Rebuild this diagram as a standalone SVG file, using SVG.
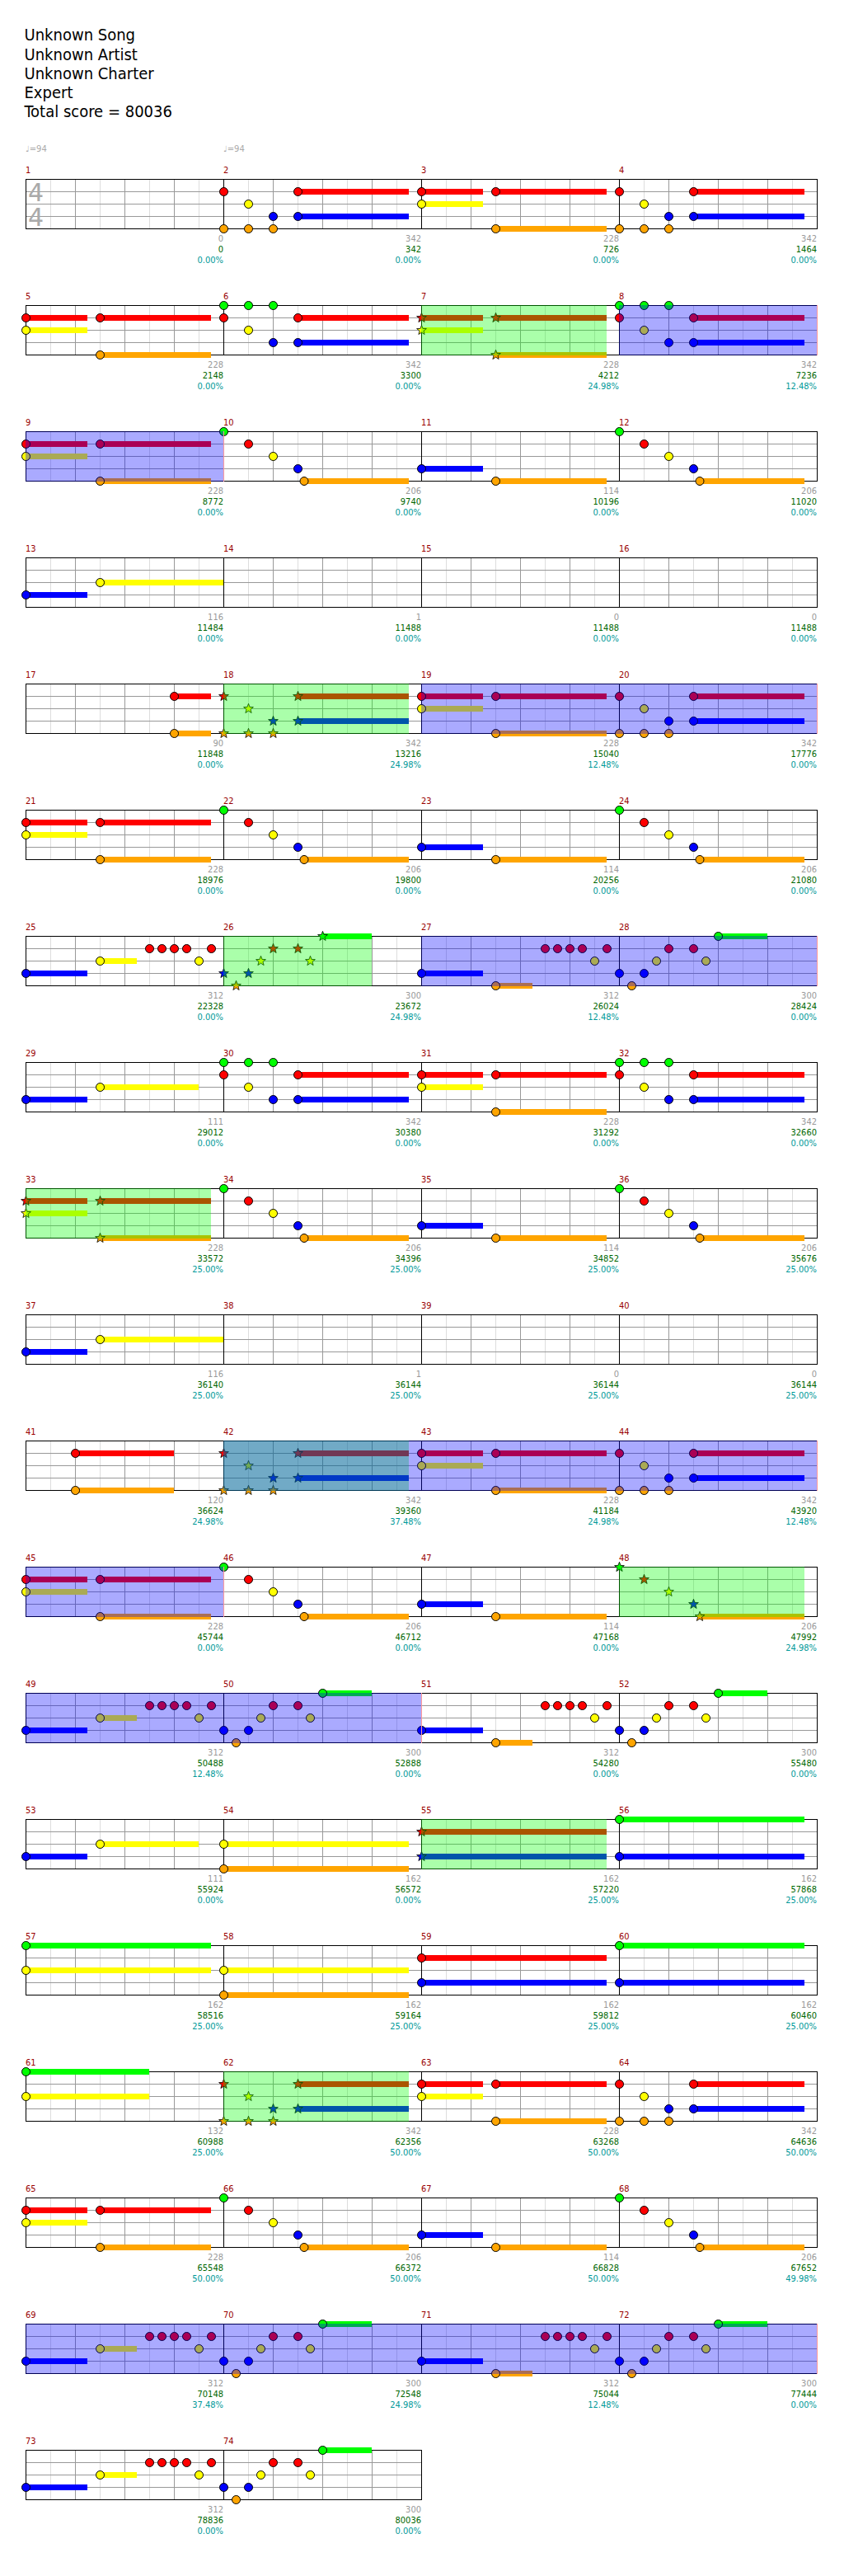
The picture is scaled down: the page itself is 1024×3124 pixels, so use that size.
<svg xmlns="http://www.w3.org/2000/svg" width="1024" height="3124" viewBox="0 0 1024 3124">
<style>
.t{font-family:'DejaVu Sans Condensed','DejaVu Sans',sans-serif;font-stretch:condensed}
.hd{font-size:20px;fill:#000}
.mn{font-size:11px;fill:#990000}
.lb{font-size:11px;text-anchor:end}
.k{fill:#999999}.v{fill:#006600}.p{fill:#009999}
.tp{font-family:'DejaVu Sans',sans-serif;font-size:10px;fill:#aaaaaa}
.ts{font-family:'DejaVu Sans',sans-serif;font-size:30px;fill:#aaaaaa}
.n{stroke:#000;stroke-width:1}
.G{fill:#00ff00}.R{fill:#ff0000}.Y{fill:#ffff00}.B{fill:#0000ff}.O{fill:#ffa500}
.og{fill:#00ff00;fill-opacity:.3333}
.ob{fill:#0000ff;fill-opacity:.3333}
.se{stroke:#ff9999;stroke-width:1;fill:none}
.l8{stroke:#dddddd;stroke-width:1;fill:none}
.l4{stroke:#999999;stroke-width:1;fill:none}
.lm{stroke:#000;stroke-width:1;fill:none}
</style>
<defs>
<path id="st" d="M0,-6.2L1.53,-2.1L5.9,-1.92L2.47,0.8L3.64,5.02L0,2.6L-3.64,5.02L-2.47,0.8L-5.9,-1.92L-1.53,-2.1Z" stroke="#000" stroke-width="0.8"/>
<g id="g4">
<rect x="31" y="0" width="960" height="60" fill="#fff"/>
<path class="l8" d="M61.5 0V60M121.5 0V60M181.5 0V60M241.5 0V60M301.5 0V60M361.5 0V60M421.5 0V60M481.5 0V60M541.5 0V60M601.5 0V60M661.5 0V60M721.5 0V60M781.5 0V60M841.5 0V60M901.5 0V60M961.5 0V60"/>
<path class="l4" d="M91.5 0V60M151.5 0V60M211.5 0V60M331.5 0V60M391.5 0V60M451.5 0V60M571.5 0V60M631.5 0V60M691.5 0V60M811.5 0V60M871.5 0V60M931.5 0V60M31 15.5H991M31 30.5H991M31 45.5H991"/>
<path class="lm" d="M271.5 0V60M511.5 0V60M751.5 0V60"/>
<rect x="31.5" y="0.5" width="960" height="60" fill="none" stroke="#000"/>
</g>
<g id="g2">
<rect x="31" y="0" width="480" height="60" fill="#fff"/>
<path class="l8" d="M61.5 0V60M121.5 0V60M181.5 0V60M241.5 0V60M301.5 0V60M361.5 0V60M421.5 0V60M481.5 0V60"/>
<path class="l4" d="M91.5 0V60M151.5 0V60M211.5 0V60M331.5 0V60M391.5 0V60M451.5 0V60M31 15.5H511M31 30.5H511M31 45.5H511"/>
<path class="lm" d="M271.5 0V60"/>
<rect x="31.5" y="0.5" width="480" height="60" fill="none" stroke="#000"/>
</g>
<g id="pAsus"><rect class="R" x="0.5" y="12" width="74.5" height="7"/><rect class="Y" x="0.5" y="27" width="74.5" height="7"/><rect class="R" x="90.5" y="12" width="134.5" height="7"/><rect class="O" x="90.5" y="57" width="134.5" height="7"/></g>
<g id="pA"><use href="#pAsus"/><circle class="n R" cx="0.5" cy="15.5" r="5"/><circle class="n Y" cx="0.5" cy="30.5" r="5"/><circle class="n R" cx="90.5" cy="15.5" r="5"/><circle class="n O" cx="90.5" cy="60.5" r="5"/></g>
<g id="pAs"><use href="#pAsus"/><use href="#st" class="R" x="0.5" y="15.5"/><use href="#st" class="Y" x="0.5" y="30.5"/><use href="#st" class="R" x="90.5" y="15.5"/><use href="#st" class="O" x="90.5" y="60.5"/></g>
<g id="pBCsus"><rect class="R" x="90.5" y="12" width="134.5" height="7"/><rect class="B" x="90.5" y="42" width="134.5" height="7"/></g>
<g id="pB"><use href="#pBCsus"/><circle class="n G" cx="0.5" cy="0.5" r="5"/><circle class="n R" cx="0.5" cy="15.5" r="5"/><circle class="n G" cx="30.5" cy="0.5" r="5"/><circle class="n Y" cx="30.5" cy="30.5" r="5"/><circle class="n G" cx="60.5" cy="0.5" r="5"/><circle class="n B" cx="60.5" cy="45.5" r="5"/><circle class="n R" cx="90.5" cy="15.5" r="5"/><circle class="n B" cx="90.5" cy="45.5" r="5"/></g>
<g id="pC"><use href="#pBCsus"/><circle class="n R" cx="0.5" cy="15.5" r="5"/><circle class="n O" cx="0.5" cy="60.5" r="5"/><circle class="n Y" cx="30.5" cy="30.5" r="5"/><circle class="n O" cx="30.5" cy="60.5" r="5"/><circle class="n B" cx="60.5" cy="45.5" r="5"/><circle class="n O" cx="60.5" cy="60.5" r="5"/><circle class="n R" cx="90.5" cy="15.5" r="5"/><circle class="n B" cx="90.5" cy="45.5" r="5"/></g>
<g id="pCs"><use href="#pBCsus"/><use href="#st" class="R" x="0.5" y="15.5"/><use href="#st" class="O" x="0.5" y="60.5"/><use href="#st" class="Y" x="30.5" y="30.5"/><use href="#st" class="O" x="30.5" y="60.5"/><use href="#st" class="B" x="60.5" y="45.5"/><use href="#st" class="O" x="60.5" y="60.5"/><use href="#st" class="R" x="90.5" y="15.5"/><use href="#st" class="B" x="90.5" y="45.5"/></g>
<g id="pE"><rect class="O" x="98" y="57" width="127" height="7"/><circle class="n G" cx="0.5" cy="0.5" r="5"/><circle class="n R" cx="30.5" cy="15.5" r="5"/><circle class="n Y" cx="60.5" cy="30.5" r="5"/><circle class="n B" cx="90.5" cy="45.5" r="5"/><circle class="n O" cx="98" cy="60.5" r="5"/></g>
<g id="pEs"><rect class="O" x="98" y="57" width="127" height="7"/><use href="#st" class="G" x="0.5" y="0.5"/><use href="#st" class="R" x="30.5" y="15.5"/><use href="#st" class="Y" x="60.5" y="30.5"/><use href="#st" class="B" x="90.5" y="45.5"/><use href="#st" class="O" x="98" y="60.5"/></g>
<g id="pF"><rect class="B" x="0.5" y="42" width="74.5" height="7"/><rect class="O" x="90.5" y="57" width="134.5" height="7"/><circle class="n B" cx="0.5" cy="45.5" r="5"/><circle class="n O" cx="90.5" cy="60.5" r="5"/></g>
<g id="pG"><rect class="B" x="0.5" y="42" width="74.5" height="7"/><rect class="Y" x="90.5" y="27" width="149.5" height="7"/><circle class="n B" cx="0.5" cy="45.5" r="5"/><circle class="n Y" cx="90.5" cy="30.5" r="5"/></g>
<g id="pH"><rect class="B" x="0.5" y="42" width="74.5" height="7"/><rect class="Y" x="90.5" y="27" width="44.5" height="7"/><circle class="n B" cx="0.5" cy="45.5" r="5"/><circle class="n Y" cx="90.5" cy="30.5" r="5"/><circle class="n R" cx="150.5" cy="15.5" r="5"/><circle class="n R" cx="165.5" cy="15.5" r="5"/><circle class="n R" cx="180.5" cy="15.5" r="5"/><circle class="n R" cx="195.5" cy="15.5" r="5"/><circle class="n Y" cx="210.5" cy="30.5" r="5"/><circle class="n R" cx="225.5" cy="15.5" r="5"/></g>
<g id="pI"><rect class="G" x="120.5" y="-3" width="59.5" height="7"/><circle class="n B" cx="0.5" cy="45.5" r="5"/><circle class="n O" cx="15.5" cy="60.5" r="5"/><circle class="n B" cx="30.5" cy="45.5" r="5"/><circle class="n Y" cx="45.5" cy="30.5" r="5"/><circle class="n R" cx="60.5" cy="15.5" r="5"/><circle class="n R" cx="90.5" cy="15.5" r="5"/><circle class="n Y" cx="105.5" cy="30.5" r="5"/><circle class="n G" cx="120.5" cy="0.5" r="5"/></g>
<g id="pIs"><rect class="G" x="120.5" y="-3" width="59.5" height="7"/><use href="#st" class="B" x="0.5" y="45.5"/><use href="#st" class="O" x="15.5" y="60.5"/><use href="#st" class="B" x="30.5" y="45.5"/><use href="#st" class="Y" x="45.5" y="30.5"/><use href="#st" class="R" x="60.5" y="15.5"/><use href="#st" class="R" x="90.5" y="15.5"/><use href="#st" class="Y" x="105.5" y="30.5"/><use href="#st" class="G" x="120.5" y="0.5"/></g>
<g id="pJ"><rect class="B" x="0.5" y="42" width="74.5" height="7"/><rect class="O" x="90.5" y="57" width="44.5" height="7"/><circle class="n B" cx="0.5" cy="45.5" r="5"/><circle class="n O" cx="90.5" cy="60.5" r="5"/><circle class="n R" cx="150.5" cy="15.5" r="5"/><circle class="n R" cx="165.5" cy="15.5" r="5"/><circle class="n R" cx="180.5" cy="15.5" r="5"/><circle class="n R" cx="195.5" cy="15.5" r="5"/><circle class="n Y" cx="210.5" cy="30.5" r="5"/><circle class="n R" cx="225.5" cy="15.5" r="5"/></g>
<g id="pK"><rect class="B" x="0.5" y="42" width="74.5" height="7"/><rect class="Y" x="90.5" y="27" width="119.5" height="7"/><circle class="n B" cx="0.5" cy="45.5" r="5"/><circle class="n Y" cx="90.5" cy="30.5" r="5"/></g>
<g id="pL"><rect class="R" x="180.5" y="12" width="44.5" height="7"/><rect class="O" x="180.5" y="57" width="44.5" height="7"/><circle class="n R" cx="180.5" cy="15.5" r="5"/><circle class="n O" cx="180.5" cy="60.5" r="5"/></g>
<g id="pM"><rect class="R" x="60.5" y="12" width="119.5" height="7"/><rect class="O" x="60.5" y="57" width="119.5" height="7"/><circle class="n R" cx="60.5" cy="15.5" r="5"/><circle class="n O" cx="60.5" cy="60.5" r="5"/></g>
<g id="pN"><rect class="Y" x="0.5" y="27" width="224.5" height="7"/><rect class="O" x="0.5" y="57" width="224.5" height="7"/><circle class="n Y" cx="0.5" cy="30.5" r="5"/><circle class="n O" cx="0.5" cy="60.5" r="5"/></g>
<g id="pO"><rect class="R" x="0.5" y="12" width="224.5" height="7"/><rect class="B" x="0.5" y="42" width="224.5" height="7"/><circle class="n R" cx="0.5" cy="15.5" r="5"/><circle class="n B" cx="0.5" cy="45.5" r="5"/></g>
<g id="pOs"><rect class="R" x="0.5" y="12" width="224.5" height="7"/><rect class="B" x="0.5" y="42" width="224.5" height="7"/><use href="#st" class="R" x="0.5" y="15.5"/><use href="#st" class="B" x="0.5" y="45.5"/></g>
<g id="pP"><rect class="G" x="0.5" y="-3" width="224.5" height="7"/><rect class="B" x="0.5" y="42" width="224.5" height="7"/><circle class="n G" cx="0.5" cy="0.5" r="5"/><circle class="n B" cx="0.5" cy="45.5" r="5"/></g>
<g id="pQ"><rect class="G" x="0.5" y="-3" width="224.5" height="7"/><rect class="Y" x="0.5" y="27" width="224.5" height="7"/><circle class="n G" cx="0.5" cy="0.5" r="5"/><circle class="n Y" cx="0.5" cy="30.5" r="5"/></g>
<g id="pR"><rect class="G" x="0.5" y="-3" width="149.5" height="7"/><rect class="Y" x="0.5" y="27" width="149.5" height="7"/><circle class="n G" cx="0.5" cy="0.5" r="5"/><circle class="n Y" cx="0.5" cy="30.5" r="5"/></g>
</defs>
<rect width="1024" height="3124" fill="#fff"/>
<g id="header" class="t hd">
<text x="29.5" y="49.3">Unknown Song</text>
<text x="29.5" y="72.5">Unknown Artist</text>
<text x="29.5" y="95.6">Unknown Charter</text>
<text x="29.5" y="118.7">Expert</text>
<text x="29.5" y="141.8">Total score = 80036</text>
</g>
<g id="row1" transform="translate(0,217)">
<text class="tp" x="31" y="-33">♩=94</text><text class="tp" x="271" y="-33">♩=94</text>
<use href="#g4"/>
<text class="ts" x="34" y="27">4</text><text class="ts" x="34" y="57">4</text>
<use href="#pC" x="271"/><use href="#pA" x="511"/><use href="#pC" x="751"/>
<text class="t mn" x="31" y="-7">1</text><text class="t mn" x="271" y="-7">2</text><text class="t mn" x="511" y="-7">3</text><text class="t mn" x="751" y="-7">4</text>
<text class="t lb" x="271" y="76"><tspan class="k">0</tspan><tspan class="v" x="271" y="89">0</tspan><tspan class="p" x="271" y="102">0.00%</tspan></text>
<text class="t lb" x="511" y="76"><tspan class="k">342</tspan><tspan class="v" x="511" y="89">342</tspan><tspan class="p" x="511" y="102">0.00%</tspan></text>
<text class="t lb" x="751" y="76"><tspan class="k">228</tspan><tspan class="v" x="751" y="89">726</tspan><tspan class="p" x="751" y="102">0.00%</tspan></text>
<text class="t lb" x="991" y="76"><tspan class="k">342</tspan><tspan class="v" x="991" y="89">1464</tspan><tspan class="p" x="991" y="102">0.00%</tspan></text>
</g>
<g id="row2" transform="translate(0,370)">
<use href="#g4"/>
<use href="#pA" x="31"/><use href="#pB" x="271"/><use href="#pAs" x="511"/><use href="#pB" x="751"/>
<rect class="og" x="511" y="0" width="225" height="61"/><rect class="ob" x="751" y="0" width="240" height="61"/><path class="se" d="M991.5 0V61"/>
<text class="t mn" x="31" y="-7">5</text><text class="t mn" x="271" y="-7">6</text><text class="t mn" x="511" y="-7">7</text><text class="t mn" x="751" y="-7">8</text>
<text class="t lb" x="271" y="76"><tspan class="k">228</tspan><tspan class="v" x="271" y="89">2148</tspan><tspan class="p" x="271" y="102">0.00%</tspan></text>
<text class="t lb" x="511" y="76"><tspan class="k">342</tspan><tspan class="v" x="511" y="89">3300</tspan><tspan class="p" x="511" y="102">0.00%</tspan></text>
<text class="t lb" x="751" y="76"><tspan class="k">228</tspan><tspan class="v" x="751" y="89">4212</tspan><tspan class="p" x="751" y="102">24.98%</tspan></text>
<text class="t lb" x="991" y="76"><tspan class="k">342</tspan><tspan class="v" x="991" y="89">7236</tspan><tspan class="p" x="991" y="102">12.48%</tspan></text>
</g>
<g id="row3" transform="translate(0,523)">
<use href="#g4"/>
<use href="#pA" x="31"/><use href="#pE" x="271"/><use href="#pF" x="511"/><use href="#pE" x="751"/>
<rect class="ob" x="31" y="0" width="240" height="61"/><path class="se" d="M271.5 0V61"/>
<text class="t mn" x="31" y="-7">9</text><text class="t mn" x="271" y="-7">10</text><text class="t mn" x="511" y="-7">11</text><text class="t mn" x="751" y="-7">12</text>
<text class="t lb" x="271" y="76"><tspan class="k">228</tspan><tspan class="v" x="271" y="89">8772</tspan><tspan class="p" x="271" y="102">0.00%</tspan></text>
<text class="t lb" x="511" y="76"><tspan class="k">206</tspan><tspan class="v" x="511" y="89">9740</tspan><tspan class="p" x="511" y="102">0.00%</tspan></text>
<text class="t lb" x="751" y="76"><tspan class="k">114</tspan><tspan class="v" x="751" y="89">10196</tspan><tspan class="p" x="751" y="102">0.00%</tspan></text>
<text class="t lb" x="991" y="76"><tspan class="k">206</tspan><tspan class="v" x="991" y="89">11020</tspan><tspan class="p" x="991" y="102">0.00%</tspan></text>
</g>
<g id="row4" transform="translate(0,676)">
<use href="#g4"/>
<use href="#pG" x="31"/>
<text class="t mn" x="31" y="-7">13</text><text class="t mn" x="271" y="-7">14</text><text class="t mn" x="511" y="-7">15</text><text class="t mn" x="751" y="-7">16</text>
<text class="t lb" x="271" y="76"><tspan class="k">116</tspan><tspan class="v" x="271" y="89">11484</tspan><tspan class="p" x="271" y="102">0.00%</tspan></text>
<text class="t lb" x="511" y="76"><tspan class="k">1</tspan><tspan class="v" x="511" y="89">11488</tspan><tspan class="p" x="511" y="102">0.00%</tspan></text>
<text class="t lb" x="751" y="76"><tspan class="k">0</tspan><tspan class="v" x="751" y="89">11488</tspan><tspan class="p" x="751" y="102">0.00%</tspan></text>
<text class="t lb" x="991" y="76"><tspan class="k">0</tspan><tspan class="v" x="991" y="89">11488</tspan><tspan class="p" x="991" y="102">0.00%</tspan></text>
</g>
<g id="row5" transform="translate(0,829)">
<use href="#g4"/>
<use href="#pL" x="31"/><use href="#pCs" x="271"/><use href="#pA" x="511"/><use href="#pC" x="751"/>
<rect class="og" x="271" y="0" width="225" height="61"/><rect class="ob" x="511" y="0" width="480" height="61"/><path class="se" d="M991.5 0V61"/>
<text class="t mn" x="31" y="-7">17</text><text class="t mn" x="271" y="-7">18</text><text class="t mn" x="511" y="-7">19</text><text class="t mn" x="751" y="-7">20</text>
<text class="t lb" x="271" y="76"><tspan class="k">90</tspan><tspan class="v" x="271" y="89">11848</tspan><tspan class="p" x="271" y="102">0.00%</tspan></text>
<text class="t lb" x="511" y="76"><tspan class="k">342</tspan><tspan class="v" x="511" y="89">13216</tspan><tspan class="p" x="511" y="102">24.98%</tspan></text>
<text class="t lb" x="751" y="76"><tspan class="k">228</tspan><tspan class="v" x="751" y="89">15040</tspan><tspan class="p" x="751" y="102">12.48%</tspan></text>
<text class="t lb" x="991" y="76"><tspan class="k">342</tspan><tspan class="v" x="991" y="89">17776</tspan><tspan class="p" x="991" y="102">0.00%</tspan></text>
</g>
<g id="row6" transform="translate(0,982)">
<use href="#g4"/>
<use href="#pA" x="31"/><use href="#pE" x="271"/><use href="#pF" x="511"/><use href="#pE" x="751"/>
<text class="t mn" x="31" y="-7">21</text><text class="t mn" x="271" y="-7">22</text><text class="t mn" x="511" y="-7">23</text><text class="t mn" x="751" y="-7">24</text>
<text class="t lb" x="271" y="76"><tspan class="k">228</tspan><tspan class="v" x="271" y="89">18976</tspan><tspan class="p" x="271" y="102">0.00%</tspan></text>
<text class="t lb" x="511" y="76"><tspan class="k">206</tspan><tspan class="v" x="511" y="89">19800</tspan><tspan class="p" x="511" y="102">0.00%</tspan></text>
<text class="t lb" x="751" y="76"><tspan class="k">114</tspan><tspan class="v" x="751" y="89">20256</tspan><tspan class="p" x="751" y="102">0.00%</tspan></text>
<text class="t lb" x="991" y="76"><tspan class="k">206</tspan><tspan class="v" x="991" y="89">21080</tspan><tspan class="p" x="991" y="102">0.00%</tspan></text>
</g>
<g id="row7" transform="translate(0,1135)">
<use href="#g4"/>
<use href="#pH" x="31"/><use href="#pIs" x="271"/><use href="#pJ" x="511"/><use href="#pI" x="751"/>
<rect class="og" x="271" y="0" width="180" height="61"/><rect class="ob" x="511" y="0" width="480" height="61"/><path class="se" d="M991.5 0V61"/>
<text class="t mn" x="31" y="-7">25</text><text class="t mn" x="271" y="-7">26</text><text class="t mn" x="511" y="-7">27</text><text class="t mn" x="751" y="-7">28</text>
<text class="t lb" x="271" y="76"><tspan class="k">312</tspan><tspan class="v" x="271" y="89">22328</tspan><tspan class="p" x="271" y="102">0.00%</tspan></text>
<text class="t lb" x="511" y="76"><tspan class="k">300</tspan><tspan class="v" x="511" y="89">23672</tspan><tspan class="p" x="511" y="102">24.98%</tspan></text>
<text class="t lb" x="751" y="76"><tspan class="k">312</tspan><tspan class="v" x="751" y="89">26024</tspan><tspan class="p" x="751" y="102">12.48%</tspan></text>
<text class="t lb" x="991" y="76"><tspan class="k">300</tspan><tspan class="v" x="991" y="89">28424</tspan><tspan class="p" x="991" y="102">0.00%</tspan></text>
</g>
<g id="row8" transform="translate(0,1288)">
<use href="#g4"/>
<use href="#pK" x="31"/><use href="#pB" x="271"/><use href="#pA" x="511"/><use href="#pB" x="751"/>
<text class="t mn" x="31" y="-7">29</text><text class="t mn" x="271" y="-7">30</text><text class="t mn" x="511" y="-7">31</text><text class="t mn" x="751" y="-7">32</text>
<text class="t lb" x="271" y="76"><tspan class="k">111</tspan><tspan class="v" x="271" y="89">29012</tspan><tspan class="p" x="271" y="102">0.00%</tspan></text>
<text class="t lb" x="511" y="76"><tspan class="k">342</tspan><tspan class="v" x="511" y="89">30380</tspan><tspan class="p" x="511" y="102">0.00%</tspan></text>
<text class="t lb" x="751" y="76"><tspan class="k">228</tspan><tspan class="v" x="751" y="89">31292</tspan><tspan class="p" x="751" y="102">0.00%</tspan></text>
<text class="t lb" x="991" y="76"><tspan class="k">342</tspan><tspan class="v" x="991" y="89">32660</tspan><tspan class="p" x="991" y="102">0.00%</tspan></text>
</g>
<g id="row9" transform="translate(0,1441)">
<use href="#g4"/>
<use href="#pAs" x="31"/><use href="#pE" x="271"/><use href="#pF" x="511"/><use href="#pE" x="751"/>
<rect class="og" x="31" y="0" width="225" height="61"/>
<text class="t mn" x="31" y="-7">33</text><text class="t mn" x="271" y="-7">34</text><text class="t mn" x="511" y="-7">35</text><text class="t mn" x="751" y="-7">36</text>
<text class="t lb" x="271" y="76"><tspan class="k">228</tspan><tspan class="v" x="271" y="89">33572</tspan><tspan class="p" x="271" y="102">25.00%</tspan></text>
<text class="t lb" x="511" y="76"><tspan class="k">206</tspan><tspan class="v" x="511" y="89">34396</tspan><tspan class="p" x="511" y="102">25.00%</tspan></text>
<text class="t lb" x="751" y="76"><tspan class="k">114</tspan><tspan class="v" x="751" y="89">34852</tspan><tspan class="p" x="751" y="102">25.00%</tspan></text>
<text class="t lb" x="991" y="76"><tspan class="k">206</tspan><tspan class="v" x="991" y="89">35676</tspan><tspan class="p" x="991" y="102">25.00%</tspan></text>
</g>
<g id="row10" transform="translate(0,1594)">
<use href="#g4"/>
<use href="#pG" x="31"/>
<text class="t mn" x="31" y="-7">37</text><text class="t mn" x="271" y="-7">38</text><text class="t mn" x="511" y="-7">39</text><text class="t mn" x="751" y="-7">40</text>
<text class="t lb" x="271" y="76"><tspan class="k">116</tspan><tspan class="v" x="271" y="89">36140</tspan><tspan class="p" x="271" y="102">25.00%</tspan></text>
<text class="t lb" x="511" y="76"><tspan class="k">1</tspan><tspan class="v" x="511" y="89">36144</tspan><tspan class="p" x="511" y="102">25.00%</tspan></text>
<text class="t lb" x="751" y="76"><tspan class="k">0</tspan><tspan class="v" x="751" y="89">36144</tspan><tspan class="p" x="751" y="102">25.00%</tspan></text>
<text class="t lb" x="991" y="76"><tspan class="k">0</tspan><tspan class="v" x="991" y="89">36144</tspan><tspan class="p" x="991" y="102">25.00%</tspan></text>
</g>
<g id="row11" transform="translate(0,1747)">
<use href="#g4"/>
<use href="#pM" x="31"/><use href="#pCs" x="271"/><use href="#pA" x="511"/><use href="#pC" x="751"/>
<rect class="og" x="271" y="0" width="225" height="61"/><rect class="ob" x="271" y="0" width="720" height="61"/><path class="se" d="M991.5 0V61"/>
<text class="t mn" x="31" y="-7">41</text><text class="t mn" x="271" y="-7">42</text><text class="t mn" x="511" y="-7">43</text><text class="t mn" x="751" y="-7">44</text>
<text class="t lb" x="271" y="76"><tspan class="k">120</tspan><tspan class="v" x="271" y="89">36624</tspan><tspan class="p" x="271" y="102">24.98%</tspan></text>
<text class="t lb" x="511" y="76"><tspan class="k">342</tspan><tspan class="v" x="511" y="89">39360</tspan><tspan class="p" x="511" y="102">37.48%</tspan></text>
<text class="t lb" x="751" y="76"><tspan class="k">228</tspan><tspan class="v" x="751" y="89">41184</tspan><tspan class="p" x="751" y="102">24.98%</tspan></text>
<text class="t lb" x="991" y="76"><tspan class="k">342</tspan><tspan class="v" x="991" y="89">43920</tspan><tspan class="p" x="991" y="102">12.48%</tspan></text>
</g>
<g id="row12" transform="translate(0,1900)">
<use href="#g4"/>
<use href="#pA" x="31"/><use href="#pE" x="271"/><use href="#pF" x="511"/><use href="#pEs" x="751"/>
<rect class="ob" x="31" y="0" width="240" height="61"/><path class="se" d="M271.5 0V61"/><rect class="og" x="751" y="0" width="225" height="61"/>
<text class="t mn" x="31" y="-7">45</text><text class="t mn" x="271" y="-7">46</text><text class="t mn" x="511" y="-7">47</text><text class="t mn" x="751" y="-7">48</text>
<text class="t lb" x="271" y="76"><tspan class="k">228</tspan><tspan class="v" x="271" y="89">45744</tspan><tspan class="p" x="271" y="102">0.00%</tspan></text>
<text class="t lb" x="511" y="76"><tspan class="k">206</tspan><tspan class="v" x="511" y="89">46712</tspan><tspan class="p" x="511" y="102">0.00%</tspan></text>
<text class="t lb" x="751" y="76"><tspan class="k">114</tspan><tspan class="v" x="751" y="89">47168</tspan><tspan class="p" x="751" y="102">0.00%</tspan></text>
<text class="t lb" x="991" y="76"><tspan class="k">206</tspan><tspan class="v" x="991" y="89">47992</tspan><tspan class="p" x="991" y="102">24.98%</tspan></text>
</g>
<g id="row13" transform="translate(0,2053)">
<use href="#g4"/>
<use href="#pH" x="31"/><use href="#pI" x="271"/><use href="#pJ" x="511"/><use href="#pI" x="751"/>
<rect class="ob" x="31" y="0" width="480" height="61"/><path class="se" d="M511.5 0V61"/>
<text class="t mn" x="31" y="-7">49</text><text class="t mn" x="271" y="-7">50</text><text class="t mn" x="511" y="-7">51</text><text class="t mn" x="751" y="-7">52</text>
<text class="t lb" x="271" y="76"><tspan class="k">312</tspan><tspan class="v" x="271" y="89">50488</tspan><tspan class="p" x="271" y="102">12.48%</tspan></text>
<text class="t lb" x="511" y="76"><tspan class="k">300</tspan><tspan class="v" x="511" y="89">52888</tspan><tspan class="p" x="511" y="102">0.00%</tspan></text>
<text class="t lb" x="751" y="76"><tspan class="k">312</tspan><tspan class="v" x="751" y="89">54280</tspan><tspan class="p" x="751" y="102">0.00%</tspan></text>
<text class="t lb" x="991" y="76"><tspan class="k">300</tspan><tspan class="v" x="991" y="89">55480</tspan><tspan class="p" x="991" y="102">0.00%</tspan></text>
</g>
<g id="row14" transform="translate(0,2206)">
<use href="#g4"/>
<use href="#pK" x="31"/><use href="#pN" x="271"/><use href="#pOs" x="511"/><use href="#pP" x="751"/>
<rect class="og" x="511" y="0" width="225" height="61"/>
<text class="t mn" x="31" y="-7">53</text><text class="t mn" x="271" y="-7">54</text><text class="t mn" x="511" y="-7">55</text><text class="t mn" x="751" y="-7">56</text>
<text class="t lb" x="271" y="76"><tspan class="k">111</tspan><tspan class="v" x="271" y="89">55924</tspan><tspan class="p" x="271" y="102">0.00%</tspan></text>
<text class="t lb" x="511" y="76"><tspan class="k">162</tspan><tspan class="v" x="511" y="89">56572</tspan><tspan class="p" x="511" y="102">0.00%</tspan></text>
<text class="t lb" x="751" y="76"><tspan class="k">162</tspan><tspan class="v" x="751" y="89">57220</tspan><tspan class="p" x="751" y="102">25.00%</tspan></text>
<text class="t lb" x="991" y="76"><tspan class="k">162</tspan><tspan class="v" x="991" y="89">57868</tspan><tspan class="p" x="991" y="102">25.00%</tspan></text>
</g>
<g id="row15" transform="translate(0,2359)">
<use href="#g4"/>
<use href="#pQ" x="31"/><use href="#pN" x="271"/><use href="#pO" x="511"/><use href="#pP" x="751"/>
<text class="t mn" x="31" y="-7">57</text><text class="t mn" x="271" y="-7">58</text><text class="t mn" x="511" y="-7">59</text><text class="t mn" x="751" y="-7">60</text>
<text class="t lb" x="271" y="76"><tspan class="k">162</tspan><tspan class="v" x="271" y="89">58516</tspan><tspan class="p" x="271" y="102">25.00%</tspan></text>
<text class="t lb" x="511" y="76"><tspan class="k">162</tspan><tspan class="v" x="511" y="89">59164</tspan><tspan class="p" x="511" y="102">25.00%</tspan></text>
<text class="t lb" x="751" y="76"><tspan class="k">162</tspan><tspan class="v" x="751" y="89">59812</tspan><tspan class="p" x="751" y="102">25.00%</tspan></text>
<text class="t lb" x="991" y="76"><tspan class="k">162</tspan><tspan class="v" x="991" y="89">60460</tspan><tspan class="p" x="991" y="102">25.00%</tspan></text>
</g>
<g id="row16" transform="translate(0,2512)">
<use href="#g4"/>
<use href="#pR" x="31"/><use href="#pCs" x="271"/><use href="#pA" x="511"/><use href="#pC" x="751"/>
<rect class="og" x="271" y="0" width="225" height="61"/>
<text class="t mn" x="31" y="-7">61</text><text class="t mn" x="271" y="-7">62</text><text class="t mn" x="511" y="-7">63</text><text class="t mn" x="751" y="-7">64</text>
<text class="t lb" x="271" y="76"><tspan class="k">132</tspan><tspan class="v" x="271" y="89">60988</tspan><tspan class="p" x="271" y="102">25.00%</tspan></text>
<text class="t lb" x="511" y="76"><tspan class="k">342</tspan><tspan class="v" x="511" y="89">62356</tspan><tspan class="p" x="511" y="102">50.00%</tspan></text>
<text class="t lb" x="751" y="76"><tspan class="k">228</tspan><tspan class="v" x="751" y="89">63268</tspan><tspan class="p" x="751" y="102">50.00%</tspan></text>
<text class="t lb" x="991" y="76"><tspan class="k">342</tspan><tspan class="v" x="991" y="89">64636</tspan><tspan class="p" x="991" y="102">50.00%</tspan></text>
</g>
<g id="row17" transform="translate(0,2665)">
<use href="#g4"/>
<use href="#pA" x="31"/><use href="#pE" x="271"/><use href="#pF" x="511"/><use href="#pE" x="751"/>
<text class="t mn" x="31" y="-7">65</text><text class="t mn" x="271" y="-7">66</text><text class="t mn" x="511" y="-7">67</text><text class="t mn" x="751" y="-7">68</text>
<text class="t lb" x="271" y="76"><tspan class="k">228</tspan><tspan class="v" x="271" y="89">65548</tspan><tspan class="p" x="271" y="102">50.00%</tspan></text>
<text class="t lb" x="511" y="76"><tspan class="k">206</tspan><tspan class="v" x="511" y="89">66372</tspan><tspan class="p" x="511" y="102">50.00%</tspan></text>
<text class="t lb" x="751" y="76"><tspan class="k">114</tspan><tspan class="v" x="751" y="89">66828</tspan><tspan class="p" x="751" y="102">50.00%</tspan></text>
<text class="t lb" x="991" y="76"><tspan class="k">206</tspan><tspan class="v" x="991" y="89">67652</tspan><tspan class="p" x="991" y="102">49.98%</tspan></text>
</g>
<g id="row18" transform="translate(0,2818)">
<use href="#g4"/>
<use href="#pH" x="31"/><use href="#pI" x="271"/><use href="#pJ" x="511"/><use href="#pI" x="751"/>
<rect class="ob" x="31" y="0" width="960" height="61"/><path class="se" d="M991.5 0V61"/>
<text class="t mn" x="31" y="-7">69</text><text class="t mn" x="271" y="-7">70</text><text class="t mn" x="511" y="-7">71</text><text class="t mn" x="751" y="-7">72</text>
<text class="t lb" x="271" y="76"><tspan class="k">312</tspan><tspan class="v" x="271" y="89">70148</tspan><tspan class="p" x="271" y="102">37.48%</tspan></text>
<text class="t lb" x="511" y="76"><tspan class="k">300</tspan><tspan class="v" x="511" y="89">72548</tspan><tspan class="p" x="511" y="102">24.98%</tspan></text>
<text class="t lb" x="751" y="76"><tspan class="k">312</tspan><tspan class="v" x="751" y="89">75044</tspan><tspan class="p" x="751" y="102">12.48%</tspan></text>
<text class="t lb" x="991" y="76"><tspan class="k">300</tspan><tspan class="v" x="991" y="89">77444</tspan><tspan class="p" x="991" y="102">0.00%</tspan></text>
</g>
<g id="row19" transform="translate(0,2971)">
<use href="#g2"/>
<use href="#pH" x="31"/><use href="#pI" x="271"/>
<text class="t mn" x="31" y="-7">73</text><text class="t mn" x="271" y="-7">74</text>
<text class="t lb" x="271" y="76"><tspan class="k">312</tspan><tspan class="v" x="271" y="89">78836</tspan><tspan class="p" x="271" y="102">0.00%</tspan></text>
<text class="t lb" x="511" y="76"><tspan class="k">300</tspan><tspan class="v" x="511" y="89">80036</tspan><tspan class="p" x="511" y="102">0.00%</tspan></text>
</g>
</svg>
